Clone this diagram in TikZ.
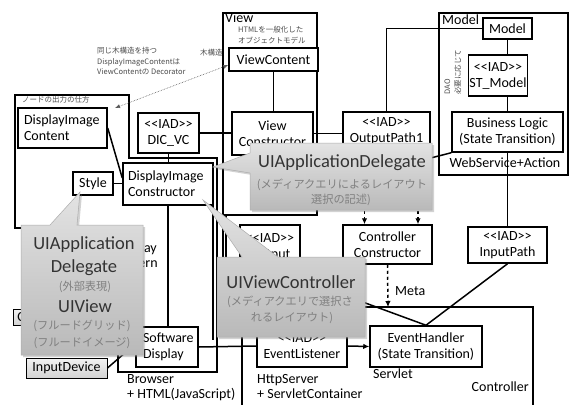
\documentclass[tikz,border=0pt]{standalone}
\usepackage{fontspec}
\setmainfont{Carlito}
\newfontfamily\jp{Noto Sans CJK JP}
\usetikzlibrary{shadows,arrows.meta,calc}

\begin{document}
\begin{tikzpicture}[x=1pt,y=-1pt,
  box/.style={draw,line width=1.5pt,fill=white,inner sep=1pt,align=center,
    font=\fontsize{14}{16}\selectfont},
  lbox/.style={align=left,inner xsep=6pt},
  gbox/.style={top color=gray!10,bottom color=gray!35,line width=0.9pt},
  frame/.style={draw,line width=1.5pt},
  link/.style={line width=1.5pt},
  arrow/.style={line width=1.5pt,-{Latex[length=6pt,width=5.5pt]}},
  dlink/.style={line width=1.5pt,dashed,-{Latex[length=6pt,width=5.5pt]}},
  dotarrow/.style={gray!70!black,line width=0.6pt,densely dotted,
    {Latex[length=5pt,width=4pt]}-{Latex[length=5pt,width=4pt]}},
  note/.style={font=\jp\fontsize{7.5}{10.5}\selectfont,text=black!70,align=left,inner sep=0pt},
  lbl/.style={font=\fontsize{14}{15}\selectfont,inner sep=0pt,align=left},
  callout/.style={top color=gray!22,bottom color=gray!55,draw=gray!65,line width=0.5pt,
    drop shadow={shadow xshift=2pt,shadow yshift=-2pt,opacity=0.35}},
  big/.style={font=\fontsize{18.5}{21}\selectfont,text=black!80,inner sep=0pt},
  small/.style={font=\jp\fontsize{11.2}{13}\selectfont,text=black!50,inner sep=0pt},
]
\useasboundingbox (0,0) rectangle (574,405);
\fill[white] (0,0) rectangle (574,405);

% remarks above the node area
\node[note,anchor=north west] (treenote) at (97,47) {同じ木構造を持つ\\DisplayImageContentは\\ViewContentの Decorator};
\node[note,anchor=west] (treecut) at (200,53) {木構造を持つ};

% frames
\draw[frame] (15,95) -- (129,95) -- (129,158) -- (217,158) -- (217,372)
  -- (118,372) -- (118,228) -- (15,228) -- cycle;
\node[note,anchor=north west] (nodeout) at (22,96) {ノードの出力の仕方};
\draw[frame,fill=white] (223,13) rectangle (317,215);
\draw[link] (223,215) -- (223,330);
\draw[link] (226,215) -- (226,330);
\draw[frame] (439,13) rectangle (568,175);
\draw[frame] (242,307) rectangle (533,420);
\draw[link] (213,205) -- (213,340);

% boxes
\node[box,lbox,text width=77pt,minimum height=40pt] (dicontent) at (62.5,128) {DisplayImage\\Content};
\node[box,minimum width=40pt,minimum height=23pt] (style) at (93,183.5) {Style};
\node[box,lbox,inner xsep=5pt,text width=80pt,minimum height=42pt] (dicons) at (168,184) {DisplayImage\\Constructor};
\node[box,minimum width=61pt,minimum height=40pt] (dicvc) at (168.5,133) {<{}<IAD>{}>\\DIC\_VC};
\node[box,minimum width=89pt,minimum height=23pt] (vcontent) at (273.5,59.5) {ViewContent};
\node[box,minimum width=81pt,minimum height=43pt] (vcons) at (272.5,133.5) {View\\Constructor};
\node[box,minimum width=87pt,minimum height=38pt] (out1) at (386.5,131) {<{}<IAD>{}>\\OutputPath1};
\node[box,minimum width=49pt,minimum height=21pt] (model) at (507.5,28.5) {Model};
\node[box,minimum width=51pt,minimum height=41pt] (stm) at (498,75.5) {<{}<IAD>{}>\\ST\_Model};
\node[box,minimum width=111pt,minimum height=40pt] (blogic) at (507.5,132) {Business Logic\\(State Transition)};
\node[box,minimum width=79pt,minimum height=36pt] (inpath) at (507.5,245) {<{}<IAD>{}>\\InputPath};
\node[box,minimum width=89pt,minimum height=39pt] (ccons) at (387.5,244.5) {Controller\\Constructor};
\node[box,minimum width=60pt,minimum height=44pt] (out2) at (270,247) {<{}<IAD>{}>\\Output};
\node[box,minimum width=90pt,minimum height=42pt] (elis) at (302,346) {<{}<IAD>{}>\\EventListener};
\node[box,minimum width=112pt,minimum height=41pt] (ehand) at (426,346.5) {EventHandler\\(State Transition)};
\node[box,lbox,inner xsep=7pt,text width=48pt,minimum height=40pt] (sdisp) at (167,347) {Software\\Display};
\node[box,gbox,minimum width=81pt,minimum height=20pt] (indev) at (66.5,368) {InputDevice};
\node[box,gbox,anchor=west,align=left,inner xsep=4pt,text width=40pt,minimum height=16pt] (cbox) at (13,317.5) {C};

% connectors
\draw[link] (model.west) -| (out1.north);
\draw[link] (model.south) -- (model.south |- stm.north);
\draw[link] (model.south |- stm.south) -- (model.south |- blogic.north);
\draw[link] (blogic.south) -- (inpath.north);
\coordinate (blhid) at (415,162);
\draw[link] (blogic.south west) -- (blhid);
\draw[link] (inpath.south) -- (ehand.north);
\coordinate (ehhid) at (330,290);
\draw[link] (ehhid) -- (ehand.north);
\draw[dlink] ([xshift=-22pt]out1.south) -- ([xshift=-22pt]out1.south |- ccons.north);
\draw[dlink] ([xshift=31.5pt]out1.south) -- ([xshift=31.5pt]out1.south |- ccons.north);
\coordinate (ctrltop) at (388,307);
\draw[dlink] (ccons.south) -- (ctrltop);
\node[lbl,anchor=west] (meta) at (395,291) {Meta};
\draw[arrow] (elis.east) -- (ehand.west);
\draw[link] (sdisp.east) -- (elis.west);
\draw[link] (dicvc.east) -- (dicvc.east -| vcons.west);
\draw[link] (vcons.east) -- (vcons.east -| out1.west);
\draw[link] (vcontent.south) -- (vcontent.south |- vcons.north);
\draw[link] (dicvc.south) -- (dicvc.south |- dicons.north);
\draw[link] (dicons.south) -- (dicons.south |- sdisp.north);
\draw[link] (dicontent.east) -- ([yshift=6pt]dicons.west);
\draw[link] (style.east) -- (style.east -| dicons.west);
\draw[link] (indev.east) -- ([yshift=3pt]sdisp.west);
\coordinate (dotA) at (115,108);
\draw[dotarrow] (dotA) -- ([yshift=-5.5pt]vcontent.west);

% frame labels
\node[lbl,anchor=west] (viewlbl) at (225,18) {View};
\node[note,anchor=north west] (htmlnote) at (238,26) {HTMLを一般化した\\オブジェクトモデル};
\node[lbl,anchor=west] (modellbl) at (442,20) {Model};
\node[note,rotate=90,align=left] (dao) at (453,72) {DAO\\必要に応じて};
\node[lbl] (wsa) at (505,163) {WebService+Action};
\node[lbl,anchor=north west] (dpat) at (116,243) {Display\\Pattern};
\node[lbl,anchor=north west] (browser) at (127,374) {Browser\\+ HTML(JavaScript)};
\node[lbl,anchor=north west] (http) at (257,374) {HttpServer\\+ ServletContainer};
\node[lbl,anchor=west] (servlet) at (373,374) {Servlet};
\node[lbl,anchor=east] (ctrl) at (529,387) {Controller};

% callouts
\path[callout] (250,143) -- (432,143) -- (432,210) -- (250,210) -- (250,173)
  -- (213,167) -- (250,153) -- cycle;
\node[big] (c1a) at (342,163) {UIApplicationDelegate};
\node[small] (c1b) at (342,185) {(メディアクエリによるレイアウト};
\node[small] (c1c) at (341,200) {選択の記述)};

\path[callout] (21,225) -- (50,225) -- (80,192) -- (77,225) -- (143,225)
  -- (143,355) -- (21,355) -- cycle;
\node[big] (c2a) at (84,245) {UIApplication};
\node[big] (c2b) at (84,268) {Delegate};
\node[small] (c2c) at (85,287) {(外部表現)};
\node[big] (c2d) at (85,306) {UIView};
\node[small] (c2e) at (82,326) {(フルードグリッド)};
\node[small] (c2f) at (82,343) {(フルードイメージ)};

\path[callout] (217,257) -- (242,257) -- (203,200) -- (278,257) -- (365,257)
  -- (365,337) -- (217,337) -- cycle;
\node[big] (c3a) at (291,282) {UIViewController};
\node[small] (c3b) at (290,302) {(メディアクエリで選択さ};
\node[small] (c3c) at (292,318) {れるレイアウト)};
\end{tikzpicture}
\end{document}
